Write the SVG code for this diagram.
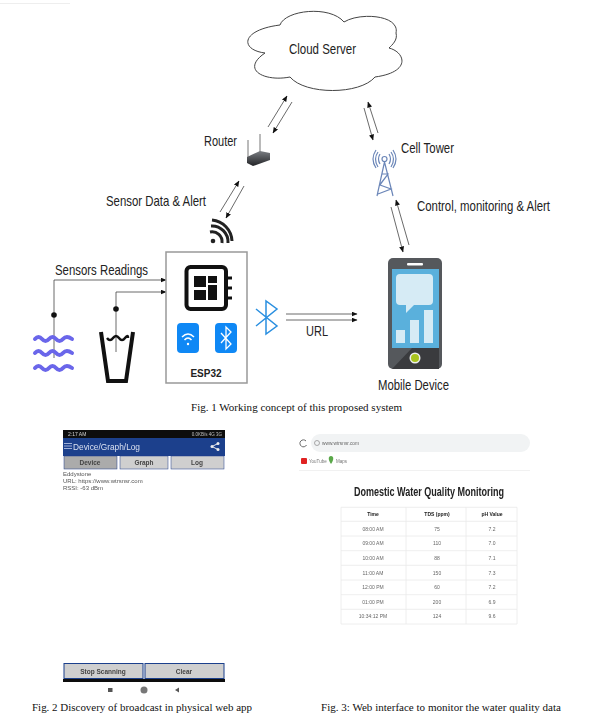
<svg xmlns="http://www.w3.org/2000/svg" width="608" height="722" viewBox="0 0 608 722">
<style>
text{font-family:"Liberation Sans",Arial,sans-serif}
.lb{font-size:15px;fill:#222}
.cap{font-family:"Liberation Serif","Times New Roman",serif;font-size:10.5px;fill:#111}
.ln{fill:none;stroke:#444;stroke-width:.8}
.ss{font-size:6px;fill:#555}
.btn{font-size:6.5px;fill:#444;text-anchor:middle;font-weight:bold}
.tb{font-size:5px;fill:#666;text-anchor:middle}
.th{font-size:5px;fill:#222;text-anchor:middle;font-weight:bold}
.bf{fill:#cfcfcf;stroke:#1c3f8c;stroke-width:1}
.tl{fill:none;stroke:#eaeaea;stroke-width:.8}
.tw{fill:none;stroke:#6b86b8;stroke-width:1.2}
.wv{fill:none;stroke:#6a66ea;stroke-width:4;stroke-linecap:round}
</style>
<defs>
<marker id="a" markerWidth="6" markerHeight="5" refX="5.500" refY="2.500" orient="auto" markerUnits="userSpaceOnUse"><path d="M0 0L6 2.500L0 5Z" fill="#111"/></marker>
<filter id="b" x="-5%" y="-5%" width="110%" height="110%"><feGaussianBlur stdDeviation="0.35"/></filter>
<linearGradient id="rt" x1="0" y1="0" x2="0" y2="1"><stop offset="0" stop-color="#7a7d82"/><stop offset="1" stop-color="#222326"/></linearGradient>
</defs>
<rect width="608" height="722" fill="#fff"/>
<path d="M0 3.500H70" stroke="#eee" stroke-width="1"/>
<g id="connectors">
<path class="ln" marker-end="url(#a)" d="M268 127L287 96"/>
<path class="ln" marker-end="url(#a)" d="M292 102L273 133"/>
<path class="ln" marker-end="url(#a)" d="M378 133L368 102"/>
<path class="ln" marker-end="url(#a)" d="M364 108L373 140"/>
<path class="ln" marker-end="url(#a)" d="M220 212L239 181"/>
<path class="ln" marker-end="url(#a)" d="M244 186L226 218"/>
<path class="ln" marker-end="url(#a)" d="M409 245L396 200"/>
<path class="ln" marker-end="url(#a)" d="M391 207L403 252"/>
<path class="ln" marker-end="url(#a)" d="M54 358V280H166"/>
<path class="ln" marker-end="url(#a)" d="M116 352V292H166"/>
<path class="ln" marker-end="url(#a)" d="M286 314H357"/>
<path class="ln" marker-end="url(#a)" d="M286 320H357"/>
<circle cx="54" cy="315" r="2.800" fill="#111"/>
<circle cx="116" cy="309" r="2.800" fill="#111"/>
</g>
<g id="cloud">
<path d="M265 53C240 50 240 30 280 25C285 10 330 5 344 22C360 12 400 15 396 33C398 40 392 45 389 48C405 52 412 72 375 77C360 95 305 95 290 77C265 82 240 70 265 53Z" fill="#fff" stroke="#444" stroke-width="1"/>
<text class="lb" x="289" y="54" textLength="67" lengthAdjust="spacingAndGlyphs">Cloud Server</text>
</g>
<g id="router">
<path d="M248 140V158M260 134V152" stroke="#777" stroke-width="1"/>
<path d="M247 157L260 151L270 153V160L253 166L247 163Z" fill="url(#rt)"/>
<text class="lb" x="204" y="146" textLength="33" lengthAdjust="spacingAndGlyphs">Router</text>
</g>
<g id="cell-tower">
<circle cx="384.500" cy="159" r="2.500" class="tw"/>
<path class="tw" d="M380 154Q377 159 380 164M389 154Q392 159 389 164M378 152Q373 159 378 167M391 152Q396 159 391 167M376 150Q370 159 376 168M393 150Q399 159 393 168"/>
<path class="tw" d="M384.500 162L377 196M384.500 162L393 196M382 174L388 174L380 185L391 189L378 194M388 174L381 183"/>
<text class="lb" x="401" y="153" textLength="53" lengthAdjust="spacingAndGlyphs">Cell Tower</text>
</g>
<g id="wifi-signal">
<circle cx="213" cy="241" r="2.300" fill="#222"/>
<path d="M210 232A10 10 0 0 1 222 243M211 226A16 16 0 0 1 228 243M212 220A22 22 0 0 1 232 241" fill="none" stroke="#222" stroke-width="3"/>
</g>
<text class="lb" x="106" y="206" textLength="100" lengthAdjust="spacingAndGlyphs">Sensor Data &amp; Alert</text>
<text class="lb" x="417" y="211" textLength="133" lengthAdjust="spacingAndGlyphs">Control, monitoring &amp; Alert</text>
<text class="lb" x="55" y="275" textLength="93" lengthAdjust="spacingAndGlyphs">Sensors Readings</text>
<g id="water">
<path class="wv" d="M35 339Q38.500 335 42 339T49 339T56 339T63 339T72 339M35 353Q38.500 349 42 353T49 353T56 353T63 353T72 353M35 368Q38.500 364 42 368T49 368T56 368T63 368T72 368"/>
</g>
<g id="glass">
<path d="M101 332L108 381H126L133 332" fill="none" stroke="#111" stroke-width="4"/>
<path d="M107 338Q110 342 113 338T119 338T125 338T128 338" fill="none" stroke="#111" stroke-width="2.500"/>
</g>
<g id="esp32">
<rect x="166" y="252" width="81" height="131" fill="#fff" stroke="#999" stroke-width="1.500"/>
<rect x="186.500" y="267" width="39.500" height="42" rx="4" fill="#fff" stroke="#111" stroke-width="4"/>
<path d="M194 276h12v11h-12zM208 276h9v7h-9zM208 285h9v15h-9zM194 290h12v10h-12z" fill="#111"/>
<path d="M227 278h5M227 288h5M227 298h5" stroke="#111" stroke-width="3"/>
<rect x="177" y="323" width="22" height="30" rx="4" fill="#0f88f5"/>
<path d="M182 337Q188 331 194 337M184.500 340Q188 336 191.500 340" fill="none" stroke="#fff" stroke-width="1.500"/>
<circle cx="188" cy="344" r="1.200" fill="#fff"/>
<rect x="215" y="323" width="22" height="30" rx="4" fill="#0f88f5"/>
<path d="M221 333L231 344L226 349V327L231 332L221 343" fill="none" stroke="#fff" stroke-width="1.300"/>
<text x="206" y="377" font-size="10" font-weight="bold" fill="#222" text-anchor="middle">ESP32</text>
</g>
<g id="bluetooth">
<path d="M256 309L277 326L266 334V301L277 309L256 326" fill="none" stroke="#2a8fe0" stroke-width="1.500"/>
</g>
<text class="lb" x="306" y="336" textLength="22" lengthAdjust="spacingAndGlyphs">URL</text>
<g id="mobile">
<rect x="388" y="258" width="54" height="111" rx="5" fill="#55585c"/>
<path d="M392 369L412 348H439V369Z" fill="#3a3b3e"/>
<rect x="392" y="269" width="47" height="79" fill="#5ab0dc"/>
<rect x="407" y="263" width="16" height="2.500" rx="1" fill="#fff"/>
<path d="M400 274H429Q433 274 433 278V301Q433 305 429 305H414L406 313V305H400Q396 305 396 301V278Q396 274 400 274Z" fill="#d6ebf5"/>
<path d="M396 330h9v13h-9zM410 320h9v23h-9zM424 310h9v33h-9z" fill="#d6ebf5"/>
<circle cx="415" cy="358" r="5.500" fill="#eee"/>
<circle cx="415" cy="358" r="4" fill="#a9c41f"/>
<text class="lb" x="378" y="390" textLength="71" lengthAdjust="spacingAndGlyphs">Mobile Device</text>
</g>
<text class="cap" x="191" y="411" textLength="211" lengthAdjust="spacingAndGlyphs">Fig. 1 Working concept of this proposed system</text>
<g id="app-screen" filter="url(#b)">
<rect x="63" y="430" width="162" height="8" fill="#111"/>
<text x="68" y="436" font-size="5" fill="#ccc">2:17 AM</text>
<text x="222" y="436" font-size="4.500" fill="#bbb" text-anchor="end">0.0KB/s 4G 3G</text>
<rect x="63" y="438" width="162" height="18" fill="#1c3f8c"/>
<path d="M64 443.500h8M64 446h8M64 448.500h8" stroke="#9fb0d8" stroke-width="1"/>
<text x="73" y="450" font-size="9" fill="#d8e0f0" textLength="67" lengthAdjust="spacingAndGlyphs">Device/Graph/Log</text>
<path d="M218 443.500L212 446.500L218 449.500" fill="none" stroke="#eee" stroke-width="1"/>
<circle cx="218" cy="443.500" r="1.500" fill="#eee"/><circle cx="212" cy="446.500" r="1.500" fill="#eee"/><circle cx="218" cy="449.500" r="1.500" fill="#eee"/>
<rect x="64" y="456" width="53" height="13" fill="#ababab" stroke="#1c3f8c" stroke-width=".5"/>
<rect x="120" y="456" width="48" height="13" fill="#cfcfcf" stroke="#1c3f8c" stroke-width=".5"/>
<rect x="171" y="456" width="53" height="13" fill="#cfcfcf" stroke="#1c3f8c" stroke-width=".5"/>
<text class="btn" x="90" y="465">Device</text>
<text class="btn" x="144" y="465">Graph</text>
<text class="btn" x="197" y="465">Log</text>
<text class="ss" x="63" y="476">Eddystone</text>
<text class="ss" x="63" y="483">URL: https://www.wtrsnsr.com</text>
<text class="ss" x="63" y="490">RSSI: -63 dBm</text>
<rect x="64" y="663.500" width="79" height="15" class="bf"/>
<rect x="145" y="663.500" width="79" height="15" class="bf"/>
<text class="btn" x="103" y="673.500">Stop Scanning</text>
<text class="btn" x="184" y="673.500">Clear</text>
<rect x="63" y="679" width="162" height="3" fill="#111"/>
<rect x="108" y="688" width="4.500" height="4" fill="#555"/>
<circle cx="144" cy="690" r="3.500" fill="#777"/>
<path d="M179 687.500V692.500L175 690Z" fill="#555"/>
</g>
<text class="cap" x="32" y="711" textLength="220" lengthAdjust="spacingAndGlyphs">Fig. 2 Discovery of broadcast in physical web app</text>
<g id="web-page" filter="url(#b)">
<path d="M306 441A3.500 3.500 0 1 0 306.500 445" fill="none" stroke="#666" stroke-width="1"/>
<rect x="311" y="434" width="219" height="18" rx="9" fill="#f1f3f4"/>
<circle cx="317" cy="443" r="2.500" fill="none" stroke="#888" stroke-width=".7"/>
<text x="322" y="445" font-size="6" fill="#666" textLength="37" lengthAdjust="spacingAndGlyphs">www.wtrsnsr.com</text>
<rect x="301" y="458" width="6" height="6" rx="1" fill="#e02020"/>
<text x="309" y="463" font-size="4.500" fill="#777">YouTube</text>
<path d="M331 456C328 456 328 460 331 464C334 460 334 456 331 456Z" fill="#5aa84a"/>
<text x="336" y="463" font-size="4.500" fill="#777">Maps</text>
<path d="M299 470.500H530" stroke="#eee" stroke-width=".8"/>
<text x="429" y="496" font-size="12" font-weight="bold" fill="#222" text-anchor="middle" textLength="150" lengthAdjust="spacingAndGlyphs">Domestic Water Quality Monitoring</text>
<path class="tl" d="M341 507.300H517M341 521.300H517M341 536H517M341 550.700H517M341 565.300H517M341 580H517M341 594.700H517M341 609.300H517M341 624H517M341 507.300V624M406 507.300V624M466 507.300V624M517 507.300V624"/>
<text class="th" x="373" y="516">Time</text><text class="th" x="437" y="516">TDS (ppm)</text><text class="th" x="492" y="516">pH Value</text>
<text class="tb" x="373" y="530.500">08:00 AM</text><text class="tb" x="437" y="530.500">75</text><text class="tb" x="492" y="530.500">7.2</text>
<text class="tb" x="373" y="545">09:00 AM</text><text class="tb" x="437" y="545">110</text><text class="tb" x="492" y="545">7.0</text>
<text class="tb" x="373" y="560">10:00 AM</text><text class="tb" x="437" y="560">88</text><text class="tb" x="492" y="560">7.1</text>
<text class="tb" x="373" y="574.500">11:00 AM</text><text class="tb" x="437" y="574.500">150</text><text class="tb" x="492" y="574.500">7.3</text>
<text class="tb" x="373" y="589">12:00 PM</text><text class="tb" x="437" y="589">60</text><text class="tb" x="492" y="589">7.2</text>
<text class="tb" x="373" y="603.500">01:00 PM</text><text class="tb" x="437" y="603.500">200</text><text class="tb" x="492" y="603.500">6.9</text>
<text class="tb" x="373" y="618">10:34:12 PM</text><text class="tb" x="437" y="618">124</text><text class="tb" x="492" y="618">9.6</text>
</g>
<text class="cap" x="321" y="711" textLength="240" lengthAdjust="spacingAndGlyphs">Fig. 3: Web interface to monitor the water quality data</text>
</svg>
